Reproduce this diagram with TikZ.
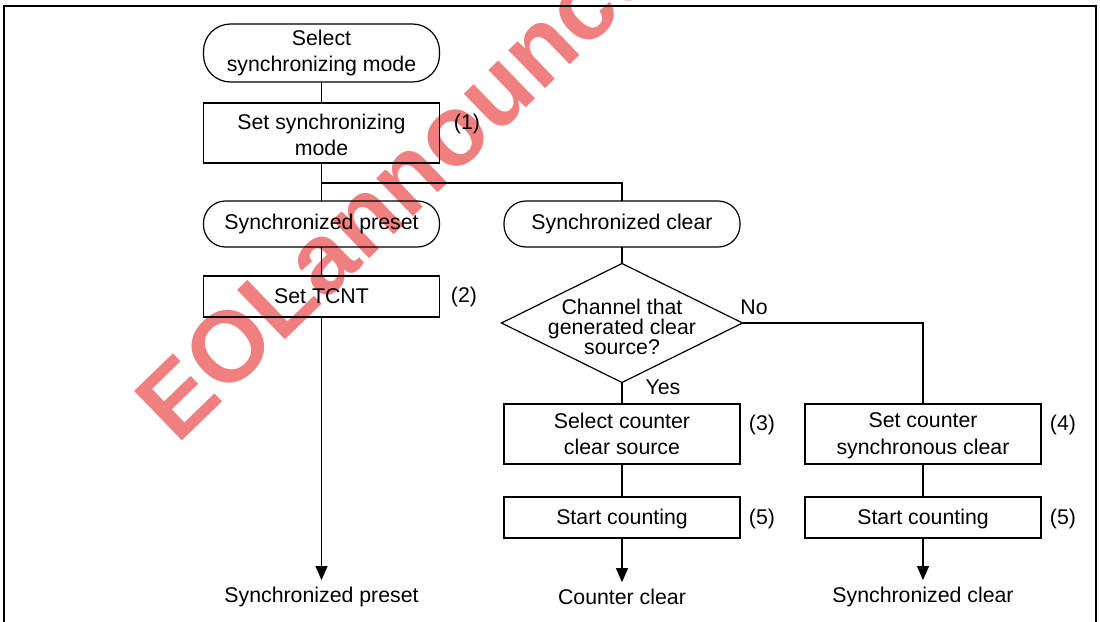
\documentclass[tikz,border=0pt]{standalone}
\usepackage{fontspec}
\setmainfont{Liberation Sans}
\usetikzlibrary{shapes.geometric,arrows.meta}
\definecolor{wmred}{RGB}{240,128,128}
\begin{document}
\begin{tikzpicture}[x=1pt,y=-1pt,
  every node/.style={inner sep=0pt, outer sep=0pt},
  txt/.style={font=\fontsize{21.3}{26.5}\selectfont, align=center},
  wire/.style={draw, line width=1.2pt},
  proc/.style={txt, draw, line width=1.2pt, minimum width=236pt},
  term/.style={txt, draw, line width=1.2pt, rounded corners=22pt, minimum width=236pt},
  dec/.style={draw, diamond, line width=1.2pt, minimum width=241pt, minimum height=119pt},
  endtxt/.style={txt, inner ysep=7pt},
  tip/.style={-{Triangle[width=12pt,length=14pt]}}]
\useasboundingbox (0,0) rectangle (1100,621);
% watermark
\node[rotate=44, anchor=base west, text=wmred, font=\fontsize{100}{100}\selectfont\bfseries] (wm) at (177,445) {EOLannounce};
% frame
\draw[line width=1.2pt] (4,650) -- (4,6) -- (1096,6) -- (1096,650);
% left column
\node[term, rounded corners=27pt, minimum height=58pt] (start) at (321.5,53) {Select\\synchronizing mode};
\node[proc, minimum height=60pt] (b1) at (321.5,133) {\rule{0pt}{19.5pt}Set synchronizing\\mode};
\node[txt] (n1) at (467,124) {(1)};
\node[term, minimum height=46pt] (tp) at (321.5,224) {Synchronized preset};
\node[proc, minimum height=41pt] (b2) at (321.5,296.5) {Set TCNT};
\node[txt] (n2) at (464,297) {(2)};
\node[endtxt] (o1) at (321.5,597) {Synchronized preset};
% middle column
\node[term, minimum height=46pt] (tc) at (622,224) {Synchronized clear};
\node[dec] (d) at (622,323) {};
\node[font=\fontsize{21.3}{20}\selectfont, align=center] (dt) at (622,326.5) {Channel that\\generated clear\\source?};
\node[txt] (no) at (754,307) {No};
\node[txt] (yes) at (663,387) {Yes};
\node[proc, minimum height=60pt] (b3) at (622,434) {Select counter\\clear source};
\node[txt] (n3) at (762,425) {(3)};
\node[proc, minimum height=41pt] (b5) at (622,517.5) {\rule{0pt}{17.5pt}Start counting};
\node[txt] (n5) at (762,519) {(5)};
\node[endtxt] (o2) at (622,597) {Counter clear};
% right column
\node[proc, minimum height=60pt] (b4) at (923,434) {\rule{0pt}{18.5pt}Set counter\\synchronous clear};
\node[txt] (n4) at (1063,425) {(4)};
\node[proc, minimum height=41pt] (b6) at (923,517.5) {\rule{0pt}{17.5pt}Start counting};
\node[txt] (n6) at (1063,519) {(5)};
\node[endtxt] (o3) at (923,597) {Synchronized clear};
% connectors
\draw[wire] (start) -- (b1);
\draw[wire] (b1) -- (tp);
\draw[wire] (b1.south) -- ++(0,20) -| (tc.north);
\draw[wire] (tp) -- (b2);
\draw[wire, tip] (b2) -- (o1);
\draw[wire] (tc) -- (d);
\draw[wire] (d.south) -- (b3.north);
\draw[wire] (d.east) -| (b4.north);
\draw[wire] (b3) -- (b5);
\draw[wire, tip] (b5) -- (o2);
\draw[wire] (b4) -- (b6);
\draw[wire, tip] (b6) -- (o3);
\end{tikzpicture}
\end{document}
